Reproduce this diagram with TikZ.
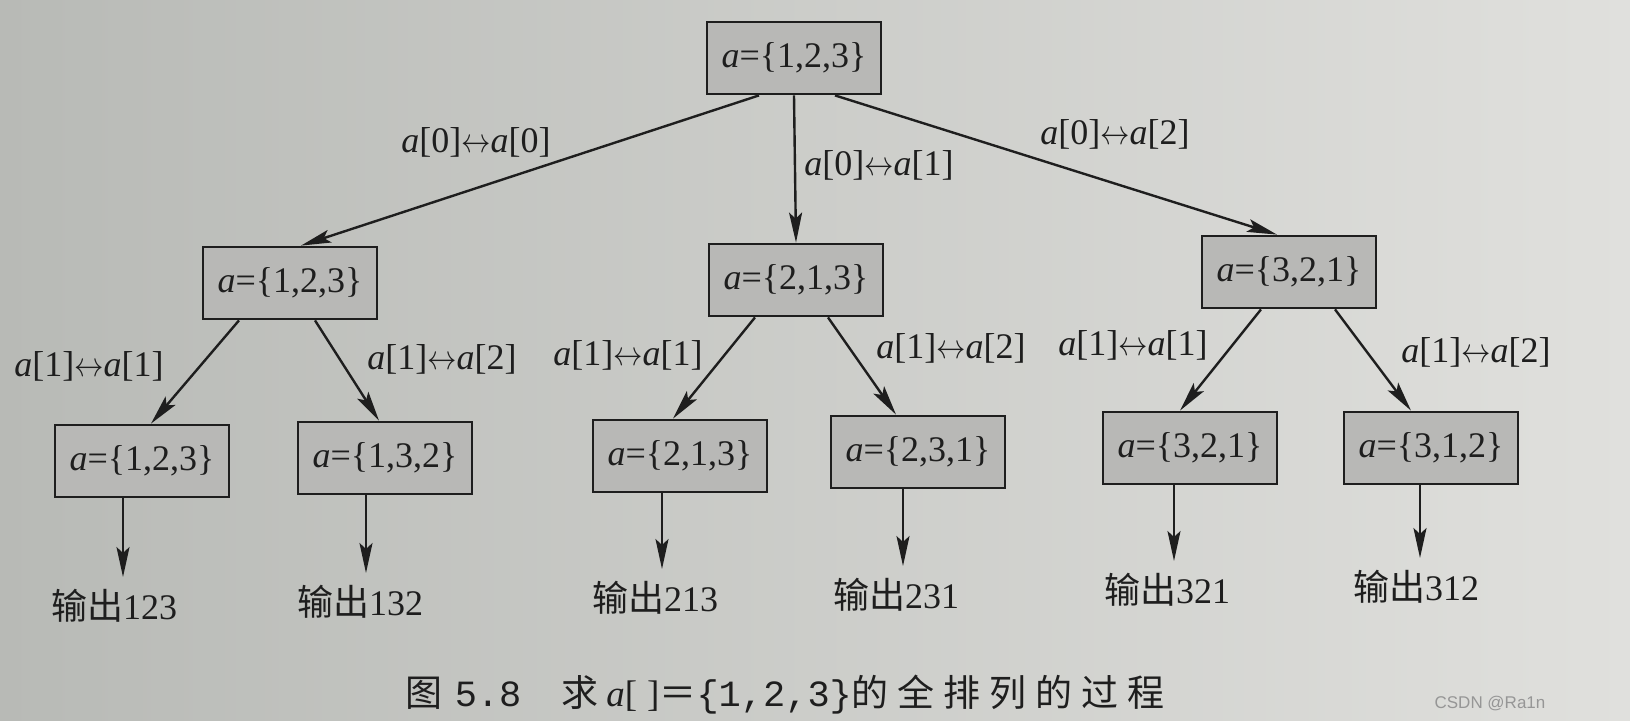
\documentclass[tikz,border=0pt]{standalone}
\usepackage{fontspec}
\setmainfont{Liberation Serif}
\newfontfamily\cjk{Noto Sans CJK SC}
\newfontfamily\capcjk[LetterSpace=24]{Noto Sans CJK SC}
\newfontfamily\capmono{Liberation Mono}
\newfontfamily\markfont{Liberation Sans}
\usetikzlibrary{arrows.meta}
\definecolor{paperL}{RGB}{184,186,182}
\definecolor{paperR}{RGB}{224,224,221}
\definecolor{boxgray}{RGB}{184,184,182}
\definecolor{ink}{RGB}{30,30,30}
\definecolor{markgray}{RGB}{150,150,150}
\tikzset{
  state/.style={draw=ink,fill=boxgray,line width=1.4pt,minimum width=87pt,minimum height=36pt,inner sep=0pt,font=\fontsize{18}{22}\selectfont,text=ink},
  swap/.style={font=\fontsize{18}{22}\selectfont,text=ink,inner sep=0pt},
  result/.style={font=\fontsize{18}{22}\selectfont,text=ink,inner xsep=0pt,inner ysep=6pt},
  arr/.style={draw=ink,line width=1.2pt,-{Stealth[length=15pt,width=6.5pt,inset=3pt]}}
}
\newcommand{\perm}[1]{\textit{a}=\{#1\}}
\newcommand{\xch}[2]{\textit{a}[#1]\scalebox{0.85}[1]{$\leftrightarrow$}\textit{a}[#2]}
\begin{document}
\begin{tikzpicture}[x=0.5pt,y=-0.5pt]
\shade[left color=paperL,right color=paperR] (0,0) rectangle (1630,720);
\useasboundingbox (0,0) rectangle (1630,720);
% boxes
\node[state] (r) at (794,58) {\perm{1,2,3}};
\node[state] (b1) at (290,283) {\perm{1,2,3}};
\node[state] (b2) at (796,280) {\perm{2,1,3}};
\node[state] (b3) at (1289,272) {\perm{3,2,1}};
\node[state] (c1) at (142,461) {\perm{1,2,3}};
\node[state] (c2) at (385,458) {\perm{1,3,2}};
\node[state] (c3) at (680,456) {\perm{2,1,3}};
\node[state] (c4) at (918,452) {\perm{2,3,1}};
\node[state] (c5) at (1190,448) {\perm{3,2,1}};
\node[state] (c6) at (1431,448) {\perm{3,1,2}};
% outputs
\node[result] (o1) at (114,606) {{\cjk 输出}123};
\node[result] (o2) at (360,602) {{\cjk 输出}132};
\node[result] (o3) at (655,598) {{\cjk 输出}213};
\node[result] (o4) at (896,595) {{\cjk 输出}231};
\node[result] (o5) at (1167,590) {{\cjk 输出}321};
\node[result] (o6) at (1416,587) {{\cjk 输出}312};
% swaps
\node[swap] (s1) at (476,142) {\xch{0}{0}};
\node[swap] (s2) at (879,165) {\xch{0}{1}};
\node[swap] (s3) at (1115,134) {\xch{0}{2}};
\node[swap] (s4) at (89,366) {\xch{1}{1}};
\node[swap] (s5) at (442,359) {\xch{1}{2}};
\node[swap] (s6) at (628,355) {\xch{1}{1}};
\node[swap] (s7) at (951,348) {\xch{1}{2}};
\node[swap] (s8) at (1133,345) {\xch{1}{1}};
\node[swap] (s9) at (1476,352) {\xch{1}{2}};
% edges
\draw[arr] ([xshift=-17.5pt]r.south) -- ([xshift=5.5pt]b1.north);
\draw[arr] (r.south) -- (b2.north);
\draw[arr] ([xshift=20.5pt]r.south) -- ([xshift=-6pt]b3.north);
\draw[arr] ([xshift=-25.5pt]b1.south) -- ([xshift=4.5pt]c1.north);
\draw[arr] ([xshift=12.5pt]b1.south) -- ([xshift=-3pt]c2.north);
\draw[arr] ([xshift=-20.5pt]b2.south) -- ([xshift=-3.5pt]c3.north);
\draw[arr] ([xshift=16pt]b2.south) -- ([xshift=-11pt]c4.north);
\draw[arr] ([xshift=-14pt]b3.south) -- ([xshift=-5pt]c5.north);
\draw[arr] ([xshift=23pt]b3.south) -- ([xshift=-10pt]c6.north);
\draw[arr] ([xshift=4.5pt]o1.north |- c1.south) -- ([xshift=4.5pt]o1.north);
\draw[arr] ([xshift=3pt]o2.north |- c2.south) -- ([xshift=3pt]o2.north);
\draw[arr] ([xshift=3.5pt]o3.north |- c3.south) -- ([xshift=3.5pt]o3.north);
\draw[arr] ([xshift=3.5pt]o4.north |- c4.south) -- ([xshift=3.5pt]o4.north);
\draw[arr] ([xshift=3.5pt]o5.north |- c5.south) -- ([xshift=3.5pt]o5.north);
\draw[arr] ([xshift=2pt]o6.north |- c6.south) -- ([xshift=2pt]o6.north);
% caption
\node[text=ink,inner sep=0pt,font=\fontsize{18.5}{22}\selectfont] (cap) at (785,695)
  {{\capcjk 图}\hspace{6pt}{\capmono 5.8}\hspace{20pt}{\capcjk 求}\hspace{4pt}\textit{a}[\hspace{5pt}]{\cjk ＝}{\capmono\{1,2,3\}}{\capcjk 的全排列的过程}};
\node[text=markgray,inner sep=0pt,font=\markfont\fontsize{8.5}{10}\selectfont] (mark) at (1490,704) {CSDN @Ra1n};
\end{tikzpicture}
\end{document}
